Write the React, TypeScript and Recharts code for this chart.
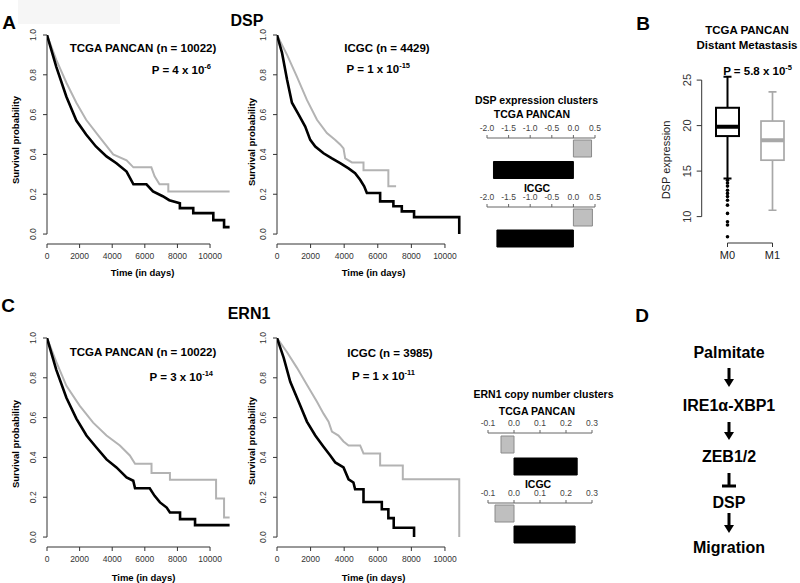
import React from "react";
import {
  Bar,
  BarChart,
  Cell,
  ComposedChart,
  Line,
  LineChart,
  ReferenceLine,
  Scatter,
  XAxis,
  YAxis,
} from "recharts";

// Kaplan-Meier axes
const timeTicks = [0, 2000, 4000, 6000, 8000, 10000];
const survTicks = [0, 0.2, 0.4, 0.6, 0.8, 1.0];

// DSP, TCGA PANCAN: [time in days, survival]
const dspTcgaBlack: [number, number][] = [
  [0, 1], [570, 0.84], [1190, 0.69], [1800, 0.57], [2400, 0.5], [3000, 0.44], [3650, 0.39],
  [4260, 0.356], [4880, 0.314], [5300, 0.25], [6100, 0.25], [6500, 0.214], [7100, 0.19],
  [7500, 0.17], [8150, 0.155], [8150, 0.13], [8970, 0.13], [8970, 0.105], [10200, 0.105],
  [10200, 0.07], [10860, 0.07], [10860, 0.035], [11200, 0.035],
];
const dspTcgaGray: [number, number][] = [
  [0, 1], [570, 0.875], [1190, 0.76], [1800, 0.66], [2400, 0.574], [3200, 0.49], [4060, 0.4],
  [4880, 0.37], [5300, 0.335], [6400, 0.335], [6600, 0.29], [6900, 0.25], [7440, 0.25],
  [7440, 0.214], [11200, 0.214],
];

// DSP, ICGC
const dspIcgcBlack: [number, number][] = [
  [0, 1], [300, 0.91], [600, 0.775], [890, 0.66], [1290, 0.6], [1680, 0.54], [1980, 0.473],
  [2280, 0.44], [2770, 0.406], [3270, 0.38], [3760, 0.356], [4260, 0.33], [4650, 0.306],
  [4950, 0.273], [5190, 0.24], [5350, 0.206], [6140, 0.206], [6140, 0.164], [6930, 0.164],
  [6930, 0.14], [7430, 0.14], [7430, 0.114], [8160, 0.114], [8160, 0.085], [10850, 0.085],
  [10850, 0],
];
const dspIcgcGray: [number, number][] = [
  [0, 1], [600, 0.9], [1190, 0.79], [1780, 0.674], [2380, 0.574], [2970, 0.507], [3470, 0.473],
  [3760, 0.45], [3960, 0.43], [4060, 0.38], [4460, 0.36], [5150, 0.36], [5150, 0.32],
  [6630, 0.32], [6630, 0.24], [7090, 0.24],
];

// ERN1, TCGA PANCAN
const ern1TcgaBlack: [number, number][] = [
  [0, 1], [570, 0.84], [1190, 0.7], [1800, 0.595], [2420, 0.51], [3030, 0.45], [3650, 0.39],
  [4260, 0.35], [4880, 0.3], [5290, 0.283], [5400, 0.245], [6300, 0.245], [6600, 0.207],
  [6930, 0.174], [7340, 0.148], [7540, 0.123], [8160, 0.123], [8160, 0.09], [9080, 0.09],
  [9080, 0.06], [11200, 0.06],
];
const ern1TcgaGray: [number, number][] = [
  [0, 1], [570, 0.88], [1190, 0.76], [2000, 0.66], [2830, 0.575], [3650, 0.51], [4470, 0.46],
  [5080, 0.41], [5400, 0.368], [6410, 0.368], [6410, 0.322], [7540, 0.322], [7540, 0.288],
  [10370, 0.288], [10370, 0.194], [10860, 0.194], [10860, 0.098], [11200, 0.098],
];

// ERN1, ICGC
const ern1IcgcBlack: [number, number][] = [
  [0, 1], [400, 0.9], [790, 0.78], [1290, 0.68], [1780, 0.58], [2280, 0.51], [2770, 0.454],
  [3170, 0.41], [3470, 0.375], [3960, 0.35], [4260, 0.29], [4550, 0.274], [4650, 0.24],
  [5150, 0.24], [5150, 0.176], [6240, 0.176], [6240, 0.14], [6630, 0.14], [6630, 0.095],
  [6950, 0.095], [6950, 0.047], [8160, 0.047], [8160, 0],
];
const ern1IcgcGray: [number, number][] = [
  [0, 1], [590, 0.93], [1190, 0.85], [1780, 0.765], [2380, 0.68], [2770, 0.62], [3070, 0.58],
  [3270, 0.53], [3660, 0.51], [3960, 0.48], [4260, 0.46], [4950, 0.46], [5150, 0.42],
  [6140, 0.42], [6140, 0.36], [7490, 0.36], [7490, 0.29], [10850, 0.29], [10850, 0],
];

// cluster bar charts (gray cluster first, black cluster second)
const clusterKeys = ["cluster 1", "cluster 2"];
const dspTicks = [-2, -1.5, -1, -0.5, 0, 0.5];
const dspTcgaClusters = [0.42, -1.85];
const dspIcgcClusters = [0.44, -1.77];
const ern1Ticks = [-0.1, 0, 0.1, 0.2, 0.3];
const ern1TcgaClusters = [-0.05, 0.243];
const ern1IcgcClusters = [-0.073, 0.235];

// box plot, DSP expression by distant metastasis
const boxGroups = ["M0", "M1"];
const boxLow = [14.2, 10.7];
const boxQ1 = [18.85, 16.2];
const boxMedian = [19.87, 18.4];
const boxQ3 = [21.96, 20.5];
const boxHigh = [25.36, 23.7];
const m0Outliers = [14.0, 13.7, 13.35, 12.9, 12.55, 12.2, 11.8, 11.26, 10.35, 9.43, 9.07, 7.78];
const boxTicks = [10, 15, 20, 25];

const pathway = ["Palmitate", "IRE1α-XBP1", "ZEB1/2", "DSP", "Migration"];

const FONT = "'Liberation Sans', Arial, Helvetica, sans-serif";
const AXIS = "#333";

const toPoints = (rows: [number, number][]) => rows.map(([t, s]) => ({ t, s }));

function RotTick(props: any) {
  const { x, y, payload, shift, size, digits } = props;
  const tx = x - shift;
  return (
    <text
      x={tx}
      y={y}
      transform={`rotate(-90 ${tx} ${y})`}
      textAnchor="middle"
      fontSize={size}
      fill="#333"
    >
      {Number(payload.value).toFixed(digits)}
    </text>
  );
}

type KmProps = {
  left: number;
  top: number;
  xMax: number;
  plotWidth: number;
  black: [number, number][];
  gray: [number, number][];
};

function KmPlot({ left, top, xMax, plotWidth, black, gray }: KmProps) {
  const width = 240;
  return (
    <div style={{ position: "absolute", left, top }}>
      <LineChart
        width={width}
        height={268}
        margin={{ top: 35, right: width - 47 - plotWidth, bottom: 0, left: 0 }}
      >
        <XAxis
          type="number"
          dataKey="t"
          domain={[0, xMax]}
          ticks={timeTicks}
          interval={0}
          allowDataOverflow
          axisLine={false}
          tickSize={4}
          tickMargin={5}
          height={24}
          tickLine={{ stroke: AXIS }}
          tick={{ fontSize: 8.5, fill: "#333" }}
        />
        <YAxis
          type="number"
          domain={[-0.05, 1]}
          ticks={survTicks}
          interval={0}
          allowDataOverflow
          axisLine={false}
          tickSize={4}
          tickMargin={0}
          width={47}
          tickLine={{ stroke: AXIS }}
          tick={(p: any) => <RotTick {...p} shift={7} size={8.5} digits={1} />}
        />
        <ReferenceLine segment={[{ x: 0, y: 0 }, { x: 0, y: 1 }]} stroke={AXIS} />
        <ReferenceLine
          segment={[{ x: timeTicks[0], y: -0.05 }, { x: timeTicks[timeTicks.length - 1], y: -0.05 }]}
          stroke={AXIS}
        />
        <Line
          data={toPoints(gray)}
          dataKey="s"
          type="linear"
          stroke="#b3b3b3"
          strokeWidth={2}
          dot={false}
          isAnimationActive={false}
        />
        <Line
          data={toPoints(black)}
          dataKey="s"
          type="linear"
          stroke="#000"
          strokeWidth={2.6}
          dot={false}
          isAnimationActive={false}
        />
      </LineChart>
    </div>
  );
}

type ClusterProps = {
  left: number;
  top: number;
  plotHeight: number;
  marginLeft: number;
  marginRight: number;
  ticks: number[];
  values: number[];
};

function ClusterBars({ left, top, plotHeight, marginLeft, marginRight, ticks, values }: ClusterProps) {
  const data = clusterKeys.map((k, i) => ({ k, v: values[i] }));
  return (
    <div style={{ position: "absolute", left, top }}>
      <BarChart
        width={160}
        height={plotHeight + 20}
        layout="vertical"
        data={data}
        margin={{ top: 0, right: marginRight, bottom: 0, left: marginLeft }}
      >
        <XAxis
          type="number"
          orientation="top"
          domain={[ticks[0], ticks[ticks.length - 1]]}
          ticks={ticks}
          interval={0}
          allowDataOverflow
          height={20}
          tickSize={3}
          tickMargin={4}
          axisLine={{ stroke: "#666" }}
          tickLine={{ stroke: "#666" }}
          tick={{ fontSize: 8.5, fill: "#444" }}
          tickFormatter={(v: number) => v.toFixed(1)}
        />
        <YAxis type="category" dataKey="k" hide />
        <Bar dataKey="v" barSize={17} isAnimationActive={false}>
          {data.map((d, i) => (
            <Cell
              key={d.k}
              fill={i === 0 ? "#bfbfbf" : "#000"}
              stroke={i === 0 ? "#8a8a8a" : "#000"}
              strokeWidth={1}
            />
          ))}
        </Bar>
      </BarChart>
    </div>
  );
}

function BoxShape(props: any) {
  const { x, y, width, height, payload } = props;
  const top = Math.min(y, y + height);
  const bottom = Math.max(y, y + height);
  const toY = (v: number) => bottom - ((v - payload.lo) / (payload.hi - payload.lo)) * (bottom - top);
  const cx = x + width / 2;
  const c = payload.color;
  const sw = payload.group === "M0" ? 2 : 1.7;
  return (
    <g>
      <line x1={cx} x2={cx} y1={toY(payload.hi)} y2={toY(payload.q3)} stroke={c} strokeWidth={sw} />
      <line x1={cx} x2={cx} y1={toY(payload.q1)} y2={toY(payload.lo)} stroke={c} strokeWidth={sw} />
      <line x1={cx - 4} x2={cx + 4} y1={toY(payload.hi)} y2={toY(payload.hi)} stroke={c} strokeWidth={sw} />
      <line x1={cx - 4} x2={cx + 4} y1={toY(payload.lo)} y2={toY(payload.lo)} stroke={c} strokeWidth={sw} />
      <rect
        x={x}
        y={toY(payload.q3)}
        width={width}
        height={toY(payload.q1) - toY(payload.q3)}
        fill="#fff"
        stroke={c}
        strokeWidth={sw}
      />
      <line
        x1={x}
        x2={x + width}
        y1={toY(payload.median)}
        y2={toY(payload.median)}
        stroke={c}
        strokeWidth={4}
      />
    </g>
  );
}

function BoxPlot() {
  const boxColors = ["#000", "#a8a8a8"];
  const data = boxGroups.map((group, i) => ({
    group,
    lo: boxLow[i],
    q1: boxQ1[i],
    median: boxMedian[i],
    q3: boxQ3[i],
    hi: boxHigh[i],
    color: boxColors[i],
  }));
  const outliers = m0Outliers.map((v) => ({ group: boxGroups[0], v }));
  const yMin = 7.1;
  return (
    <div style={{ position: "absolute", left: 610, top: 0 }}>
      <ComposedChart
        width={190}
        height={272}
        data={data}
        margin={{ top: 71, right: 0, bottom: 0, left: 0 }}
      >
        <XAxis
          dataKey="group"
          type="category"
          allowDuplicatedCategory={false}
          padding={{ left: 3.3, right: 5 }}
          axisLine={false}
          tickSize={4}
          tickMargin={4}
          height={29}
          interval={0}
          tickLine={{ stroke: AXIS }}
          tick={{ fontSize: 11, fill: "#222" }}
        />
        <XAxis xAxisId="edge" type="number" domain={[0, 1]} hide />
        <YAxis
          type="number"
          domain={[yMin, 26]}
          ticks={boxTicks}
          interval={0}
          allowDataOverflow
          axisLine={false}
          tickSize={5}
          tickMargin={0}
          width={91.7}
          tickLine={{ stroke: AXIS }}
          tick={(p: any) => <RotTick {...p} shift={5.5} size={11} digits={0} />}
        />
        <ReferenceLine
          xAxisId="edge"
          segment={[{ x: 0, y: boxTicks[0] }, { x: 0, y: boxTicks[boxTicks.length - 1] }]}
          stroke={AXIS}
        />
        <ReferenceLine
          segment={[{ x: boxGroups[0], y: yMin }, { x: boxGroups[1], y: yMin }]}
          stroke={AXIS}
        />
        <Bar
          dataKey={(d: any) => [d.lo, d.hi]}
          barSize={23}
          shape={<BoxShape />}
          isAnimationActive={false}
        />
        <Scatter
          data={outliers}
          dataKey="v"
          fill="#000"
          shape={(p: any) => <circle cx={p.cx} cy={p.cy} r={1.8} fill="#000" />}
          isAnimationActive={false}
        />
      </ComposedChart>
    </div>
  );
}

function Sup({ x, y, base, exp }: { x: number; y: number; base: string; exp: string }) {
  return (
    <text x={x} y={y} textAnchor="end" fontSize={11.5} fontWeight="bold" dominantBaseline="central">
      {base}
      <tspan dy={-4.5} fontSize={7.5}>
        {exp}
      </tspan>
    </text>
  );
}

function Arrow({ x, y1, y2 }: { x: number; y1: number; y2: number }) {
  return (
    <g>
      <line x1={x} x2={x} y1={y1} y2={y2 - 7} stroke="#000" strokeWidth={3} />
      <polygon points={`${x - 5},${y2 - 8} ${x + 5},${y2 - 8} ${x},${y2}`} fill="#000" />
    </g>
  );
}

export default function App() {
  const pathY = [352, 405, 456, 502, 547];
  return (
    <div
      style={{
        position: "absolute",
        left: 0,
        top: 0,
        width: 800,
        height: 583,
        background: "#fff",
        fontFamily: FONT,
        overflow: "hidden",
      }}
    >
      <div style={{ position: "absolute", left: 18, top: 0, width: 102, height: 24, background: "#f6f6f6" }} />

      <KmPlot left={0} top={0} xMax={11500} plotWidth={187.5} black={dspTcgaBlack} gray={dspTcgaGray} />
      <KmPlot left={230} top={0} xMax={11300} plotWidth={189.8} black={dspIcgcBlack} gray={dspIcgcGray} />
      <KmPlot left={0} top={303} xMax={11500} plotWidth={187.5} black={ern1TcgaBlack} gray={ern1TcgaGray} />
      <KmPlot left={230} top={303} xMax={11300} plotWidth={189.8} black={ern1IcgcBlack} gray={ern1IcgcGray} />

      <ClusterBars left={460} top={118} plotHeight={43} marginLeft={27} marginRight={25} ticks={dspTicks} values={dspTcgaClusters} />
      <ClusterBars left={460} top={187} plotHeight={42} marginLeft={27} marginRight={25} ticks={dspTicks} values={dspIcgcClusters} />
      <ClusterBars left={460} top={413} plotHeight={44} marginLeft={28} marginRight={28} ticks={ern1Ticks} values={ern1TcgaClusters} />
      <ClusterBars left={460} top={483} plotHeight={42} marginLeft={28} marginRight={28} ticks={ern1Ticks} values={ern1IcgcClusters} />

      <BoxPlot />

      <svg
        width={800}
        height={583}
        style={{ position: "absolute", left: 0, top: 0, pointerEvents: "none" }}
        fontFamily={FONT}
      >
        <g fontWeight="bold" fill="#000" dominantBaseline="central">
          <text x={9} y={22} fontSize={19} textAnchor="middle">A</text>
          <text x={643} y={23} fontSize={19} textAnchor="middle">B</text>
          <text x={8} y={305} fontSize={19} textAnchor="middle">C</text>
          <text x={642} y={315} fontSize={19} textAnchor="middle">D</text>
          <text x={247} y={20} fontSize={16} textAnchor="middle">DSP</text>
          <text x={249} y={313} fontSize={16} textAnchor="middle">ERN1</text>

          <text x={143} y={48} fontSize={11.5} textAnchor="middle">TCGA PANCAN (n = 10022)</text>
          <text x={387} y={48} fontSize={11.5} textAnchor="middle">ICGC (n = 4429)</text>
          <text x={143} y={352} fontSize={11.5} textAnchor="middle">TCGA PANCAN (n = 10022)</text>
          <text x={390} y={353} fontSize={11.5} textAnchor="middle">ICGC (n = 3985)</text>

          <text x={142.5} y={272} fontSize={9.5} textAnchor="middle">Time (in days)</text>
          <text x={373.5} y={272} fontSize={9.5} textAnchor="middle">Time (in days)</text>
          <text x={143.5} y={577} fontSize={9.5} textAnchor="middle">Time (in days)</text>
          <text x={373.5} y={577} fontSize={9.5} textAnchor="middle">Time (in days)</text>

          <text transform="translate(15 140) rotate(-90)" fontSize={9.5} textAnchor="middle">Survival probability</text>
          <text transform="translate(251 142) rotate(-90)" fontSize={9.5} textAnchor="middle">Survival probability</text>
          <text transform="translate(15 444) rotate(-90)" fontSize={9.5} textAnchor="middle">Survival probability</text>
          <text transform="translate(251 441) rotate(-90)" fontSize={9.5} textAnchor="middle">Survival probability</text>

          <text x={536.5} y={100} fontSize={10.5} textAnchor="middle">DSP expression clusters</text>
          <text x={532} y={114} fontSize={10.5} textAnchor="middle">TCGA PANCAN</text>
          <text x={537} y={187.5} fontSize={10.5} textAnchor="middle">ICGC</text>
          <text x={543.5} y={394} fontSize={10.5} textAnchor="middle">ERN1 copy number clusters</text>
          <text x={537} y={410.5} fontSize={10.5} textAnchor="middle">TCGA PANCAN</text>
          <text x={538} y={483.5} fontSize={10.5} textAnchor="middle">ICGC</text>

          <text x={747} y={30} fontSize={11.5} textAnchor="middle">TCGA PANCAN</text>
          <text x={747} y={45} fontSize={11.5} textAnchor="middle">Distant Metastasis</text>
        </g>

        <Sup x={211} y={70} base="P = 4 x 10" exp="-6" />
        <Sup x={410} y={69} base="P = 1 x 10" exp="-15" />
        <Sup x={213} y={377} base="P = 3 x 10" exp="-14" />
        <Sup x={415} y={376} base="P = 1 x 10" exp="-11" />
        <Sup x={792} y={71} base="P = 5.8 x 10" exp="-5" />

        <text
          transform="translate(666 160) rotate(-90)"
          fontSize={11}
          textAnchor="middle"
          dominantBaseline="central"
          fill="#222"
        >
          DSP expression
        </text>

        <g fontWeight="bold" fontSize={16} textAnchor="middle" dominantBaseline="central">
          {pathway.map((label, i) => (
            <text key={label} x={729} y={pathY[i]}>
              {label}
            </text>
          ))}
        </g>
        <Arrow x={729} y1={368} y2={387} />
        <Arrow x={729} y1={422} y2={440} />
        <line x1={729} x2={729} y1={473} y2={485} stroke="#000" strokeWidth={3} />
        <line x1={722} x2={736} y1={486} y2={486} stroke="#000" strokeWidth={3} />
        <Arrow x={729} y1={513} y2={533} />
      </svg>
    </div>
  );
}
